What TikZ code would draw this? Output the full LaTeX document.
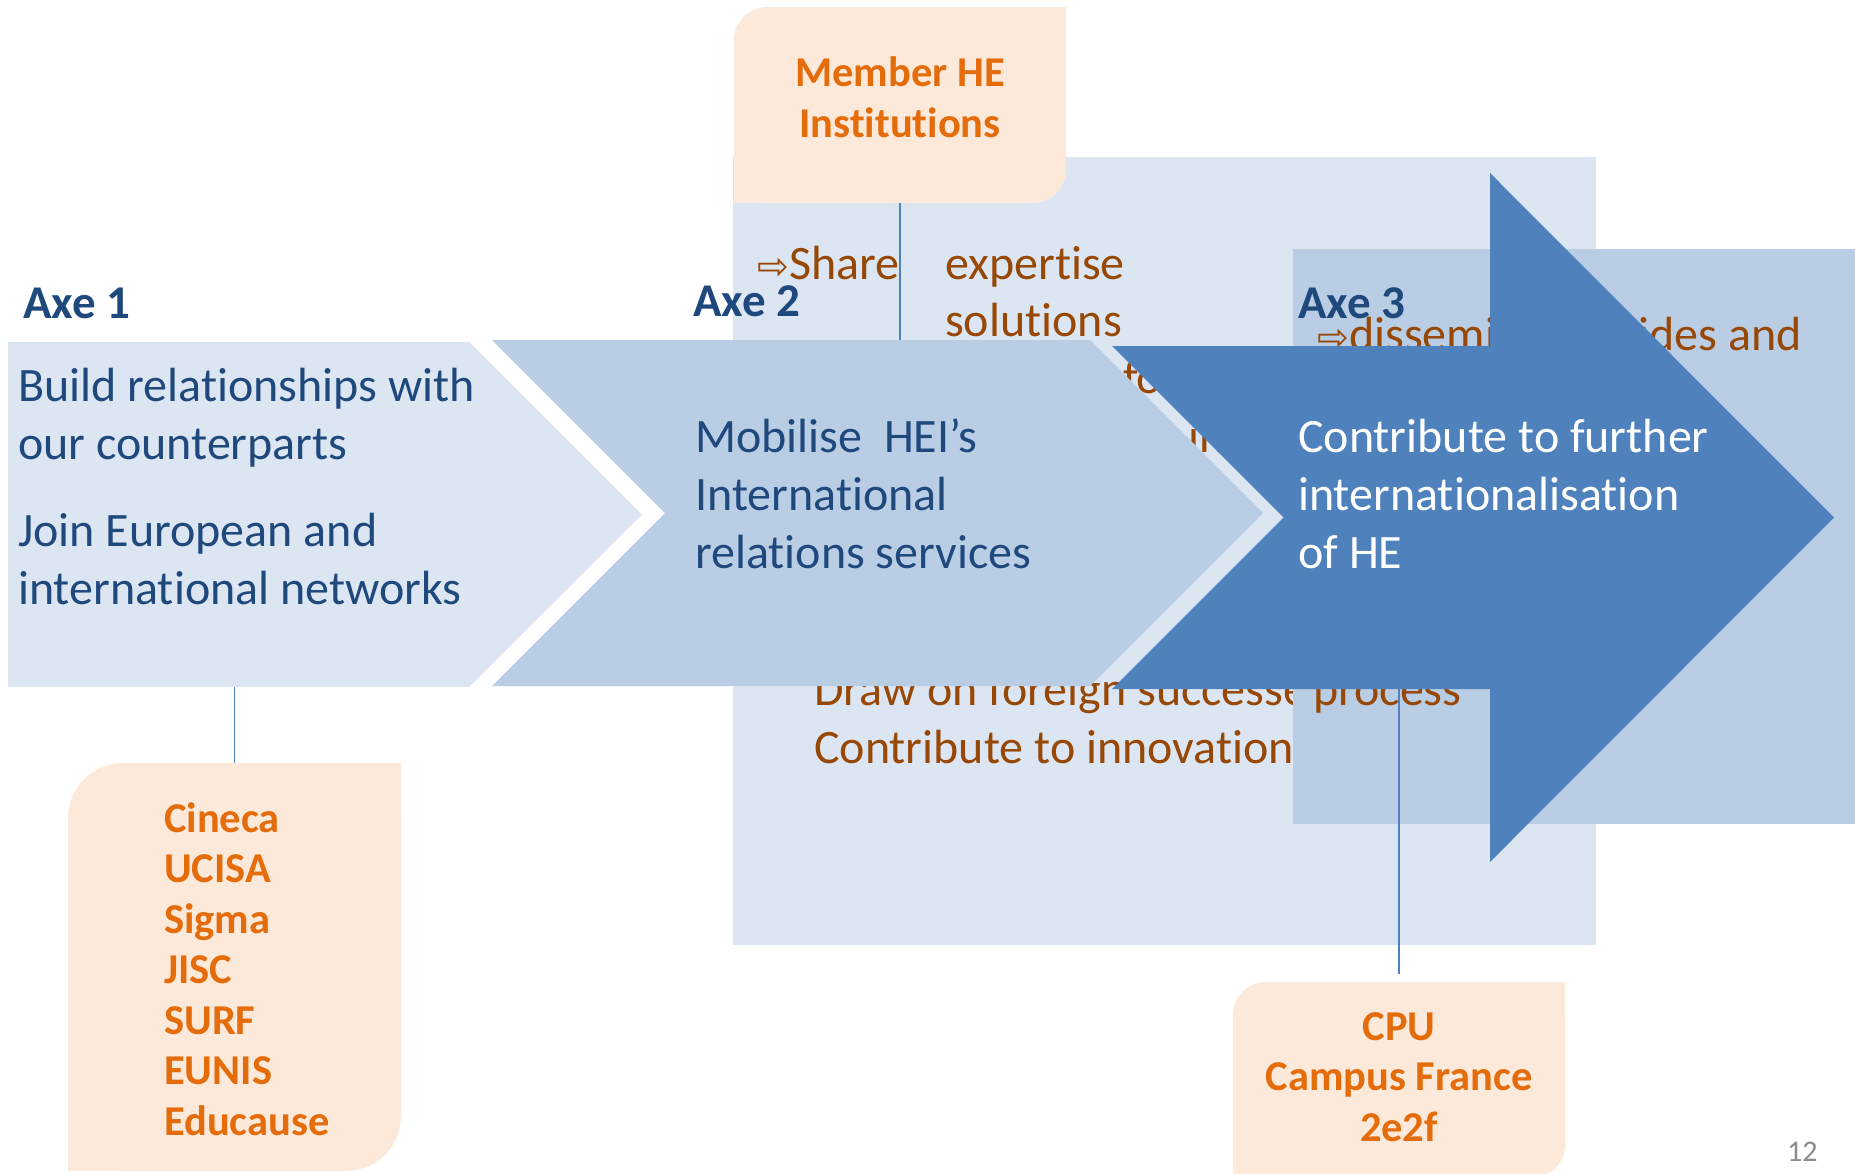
\documentclass[tikz,border=0pt]{standalone}
\usepackage{fontspec}
\setmainfont{Carlito}[Ligatures=NoCommon]
\newfontfamily\symfont{DejaVu Sans}
\usetikzlibrary{positioning}
\definecolor{paleblue}{HTML}{DCE6F2}
\definecolor{midblue}{HTML}{B9CDE5}
\definecolor{strongblue}{HTML}{4F81BD}
\definecolor{peach}{HTML}{FDE9D9}
\definecolor{orangetxt}{HTML}{E46C0A}
\definecolor{browntxt}{HTML}{984806}
\definecolor{navytxt}{HTML}{1F497D}
\newcommand{\wharrow}{{\symfont\fontsize{38}{38}\selectfont ⇨}}
\tikzset{axelabel/.style={anchor=base west,inner sep=0pt,text=navytxt,font=\fontsize{47}{56}\selectfont\bfseries},
    bodytext/.style={anchor=base west,inner sep=0pt,align=left,text=navytxt,font=\fontsize{48}{58}\selectfont},
    notetext/.style={anchor=base west,inner sep=0pt,text=browntxt,font=\fontsize{48}{58}\selectfont},
    partnerbox/.style={fill=peach,inner sep=0pt},
    partnertext/.style={anchor=base,inner sep=0pt,align=center,text=orangetxt,font=\fontsize{42.5}{50.5}\selectfont\bfseries},
    linkline/.style={draw=strongblue,line width=1.5pt}}

\begin{document}
\begin{tikzpicture}[x=1pt,y=-1pt]
    \useasboundingbox (0,0) rectangle (1855,1173);
    \fill[white] (0,0) rectangle (1855,1173);

    \fill[paleblue] (733,157) rectangle (1596,945);
    \node[notetext] (share) at (757,279) {\wharrow Share};
    \node[notetext] (expertise) at (945,279) {expertise};
    \node[notetext] (solutions) at (945,336) {solutions};
    \node[notetext] (fo) at (1123,393) {fo};
    \node[notetext] (in) at (1188,452) {in};
    \node[notetext] (draw) at (814,705) {Draw on foreign successe};
    \node[notetext] (innov) at (814,763) {Contribute to innovation};

    \fill[midblue] (1293,249) rectangle (1855,824);
    \node[notetext] (dissem) at (1317,350) {\wharrow dissemi};
    \node[notetext,anchor=base east] (guides) at (1802,350) {ides and};
    \node[notetext] (process) at (1313,705) {process};

    \node[axelabel] (axeone) at (23,318) {Axe 1};
    \node[axelabel] (axetwo) at (693,316) {Axe 2};
    \node[axelabel] (axethree) at (1298,318) {Axe 3};

    \node[partnerbox,rounded corners=33pt,minimum width=332pt,minimum height=196pt] (member) at (900,105) {};
    \fill[peach] (member.north east) rectangle ++(-40,40);
    \fill[peach] (member.south west) rectangle ++(40,-40);
    \node[partnertext] (membertext) at (900,137) {Member HE\\Institutions};
    \node[partnerbox,rounded corners=55pt,minimum width=333pt,minimum height=408pt] (cineca) at (234.5,967) {};
    \fill[peach] (cineca.north east) rectangle ++(-60,60);
    \fill[peach] (cineca.south west) rectangle ++(60,-60);
    \node[partnertext,anchor=base west,align=left] (cinecatext) at (164,1135) {Cineca\\UCISA\\Sigma\\JISC\\SURF\\EUNIS\\Educause};
    \node[partnerbox,rounded corners=33pt,minimum width=332pt,minimum height=196pt] (cpu) at (1399,1080) {};
    \fill[peach] (cpu.north east) rectangle ++(-40,40);
    \fill[peach] (cpu.south west) rectangle ++(40,-40);
    \node[partnertext] (cputext) at (1399,1141) {CPU\\Campus France\\2e2f};

    \coordinate (chevtwotop) at (900,340);
    \coordinate (chevonebot) at (234.5,687);
    \coordinate (arrowbot) at (1399,689);
    \draw[linkline] (member) -- (chevtwotop);
    \draw[linkline] (chevonebot) -- (cineca);
    \draw[linkline,shorten >=8pt] (arrowbot) -- (cpu);

    \fill[paleblue] (8,342) -- (469,342) -- (642,514.5) -- (469,687) -- (8,687) -- cycle;
    \fill[midblue] (492,340) -- (1090,340) -- (1263,513) -- (1090,686) -- (492,686) -- (665,513) -- cycle;
    \fill[strongblue] (1112,346) -- (1490,346) -- (1490,173) -- (1834,517.5) -- (1490,862) -- (1490,689) -- (1112,689) -- (1283.5,517.5) -- cycle;

    \node[bodytext] (build) at (18,459) {Build relationships with\\our counterparts};
    \node[bodytext] (join) at (18,604) {Join European and\\international networks};
    \node[bodytext] (mobilise) at (695,568) {Mobilise\ \ HEI’s\\International\\relations services};
    \node[bodytext,text=white] (further) at (1298,568) {Contribute to further\\internationalisation\\of HE};

    \node[anchor=base west,inner sep=0pt,text=black!45,font=\fontsize{30}{30}\selectfont] (page) at (1787,1161) {12};
\end{tikzpicture}
\end{document}
